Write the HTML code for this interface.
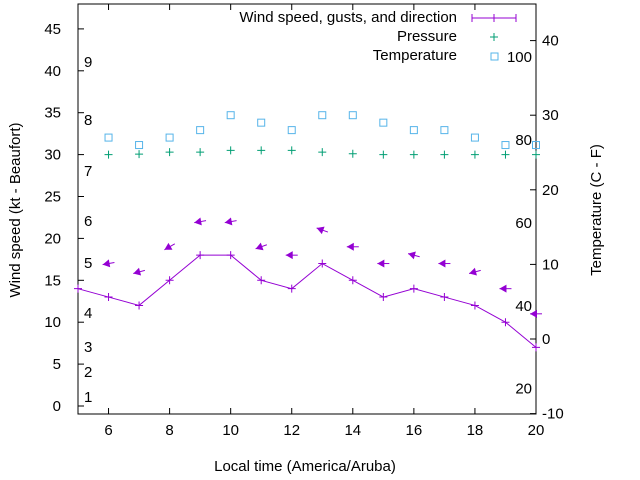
<!DOCTYPE html>
<html><head><meta charset="utf-8"><style>
body{margin:0;background:#fff}
svg{display:block;font-family:"Liberation Sans",sans-serif}
</style></head><body>
<svg id="chart" width="640" height="480" viewBox="0 0 640 480">
<rect x="0" y="0" width="640" height="480" fill="#fff"/>
<g id="axes"></g>
<g id="marks"></g>
<g font-size="15" text-anchor="end" fill="#000">
<text x="457" y="22">Wind speed, gusts, and direction</text>
<g stroke="#9400d3" stroke-width="1"><line x1="472" y1="18" x2="516" y2="18"/><line x1="472" y1="14" x2="472" y2="22"/><line x1="494" y1="14" x2="494" y2="22"/><line x1="516" y1="14" x2="516" y2="22"/></g>
<text x="457" y="41">Pressure</text>
<path d="M490,37h8M494,33v8" stroke="#009e73"/>
<text x="457" y="60">Temperature</text>
<rect x="491" y="53" width="7" height="7" fill="none" stroke="#56b4e9"/>
</g>
<text x="305" y="471" font-size="15" text-anchor="middle">Local time (America/Aruba)</text>
<text transform="translate(20,210) rotate(-90)" font-size="15" text-anchor="middle">Wind speed (kt - Beaufort)</text>
<text transform="translate(601,210) rotate(-90)" font-size="15" text-anchor="middle">Temperature (C - F)</text>
</svg>
<script>
const hours=[5,6,7,8,9,10,11,12,13,14,15,16,17,18,19,20];
const windSpeed=[14,13,12,15,18,18,15,14,17,15,13,14,13,12,10,7];
const gustHours=[6,7,8,9,10,11,12,13,14,15,16,17,18,19,20];
const gusts=[17,16,19,22,22,19,18,21,19,17,18,17,16,14,11];
const windDir=[80,75,60,80,80,70,90,110,90,90,105,90,75,90,90];
const pressure=[30.0,30.05,30.3,30.3,30.5,30.5,30.5,30.3,30.1,30.0,30.0,30.0,30.0,30.0,30.0];
const temps=[27,26,27,28,30,29,28,30,30,29,28,28,27,26,26];
const xTicks=[6,8,10,12,14,16,18,20];
const yTicks=[0,5,10,15,20,25,30,35,40,45];
const y2Ticks=[-10,0,10,20,30,40];
const beaufort=[["1",397],["2",372],["3",347],["4",313],["5",263],["6",221],["7",171],["8",120],["9",62]];
const fahr=[20,40,60,80,100];
const L=78,R=536,T=4,B=414;
const X=h=>L+(h-5)*(R-L)/15;
const Y=v=>406-v*8.38;
const Y2=c=>339-c*7.46;
const NS="http://www.w3.org/2000/svg";
const ax=document.getElementById('axes'),mk=document.getElementById('marks');
function el(t,a,p){const e=document.createElementNS(NS,t);for(const k in a)e.setAttribute(k,a[k]);(p||mk).appendChild(e);return e;}
const frame=el('rect',{x:L,y:T,width:R-L,height:B-T,fill:'none',stroke:'#000'},ax);


xTicks.forEach(h=>{
 el('line',{x1:X(h),y1:B,x2:X(h),y2:B-6,stroke:'#000'},ax);
 el('line',{x1:X(h),y1:T,x2:X(h),y2:T+6,stroke:'#000'},ax);
 const t=el('text',{x:X(h),y:B+21,'font-size':15,'text-anchor':'middle'},ax);t.textContent=h;
 
 
});
yTicks.forEach(v=>{
 el('line',{x1:L,y1:Y(v),x2:L+6,y2:Y(v),stroke:'#000'},ax);
 const t=el('text',{x:L-17,y:Y(v)+5,'font-size':15,'text-anchor':'end'},ax);t.textContent=v;
 
 
});
y2Ticks.forEach(v=>{
 el('line',{x1:R-6,y1:Y2(v),x2:R,y2:Y2(v),stroke:'#000'},ax);
 const t=el('text',{x:R+6,y:Y2(v)+5,'font-size':15},ax);t.textContent=v;
 
 
});
beaufort.forEach(([s,y])=>{const t=el('text',{x:84,y:y+5,'font-size':15},ax);t.textContent=s;
 
 });
fahr.forEach(f=>{const c=(f-32)*5/9;const t=el('text',{x:532,y:Y2(c)+5,'font-size':15,'text-anchor':'end'},ax);t.textContent=f;
 
 });
// wind line
const line=el('polyline',{points:hours.map((h,i)=>X(h)+','+Y(windSpeed[i])).join(' '),fill:'none',stroke:'#9400d3'});


hours.forEach((h,i)=>{const p=el('path',{d:`M${X(h)-4},${Y(windSpeed[i])}h8M${X(h)},${Y(windSpeed[i])-4}v8`,stroke:'#9400d3'});
 
 });
// gust arrows
gustHours.forEach((h,i)=>{
 const d=windDir[i]*Math.PI/180,vx=-Math.sin(d),vy=Math.cos(d);
 const cx=X(h),cy=Y(gusts[i]),len=12;
 const hx=cx+vx*len/2,hy=cy+vy*len/2,tx=cx-vx*len/2,ty=cy-vy*len/2;
 const px=-vy,py=vx;
 const g=el('g',{});
 
 
 el('line',{x1:tx,y1:ty,x2:hx,y2:hy,stroke:'#9400d3'},g);
 el('polygon',{points:`${hx},${hy} ${hx-vx*7+px*4},${hy-vy*7+py*4} ${hx-vx*7-px*4},${hy-vy*7-py*4}`,fill:'#9400d3'},g);
});
gustHours.forEach((h,i)=>{
 const p=el('path',{d:`M${X(h)-4},${Y(pressure[i])}h8M${X(h)},${Y(pressure[i])-4}v8`,stroke:'#009e73'});
 
 
 const r=el('rect',{x:X(h)-3.5,y:Y2(temps[i])-3.5,width:7,height:7,fill:'none',stroke:'#56b4e9'});
 
 
});
</script>
</body></html>
